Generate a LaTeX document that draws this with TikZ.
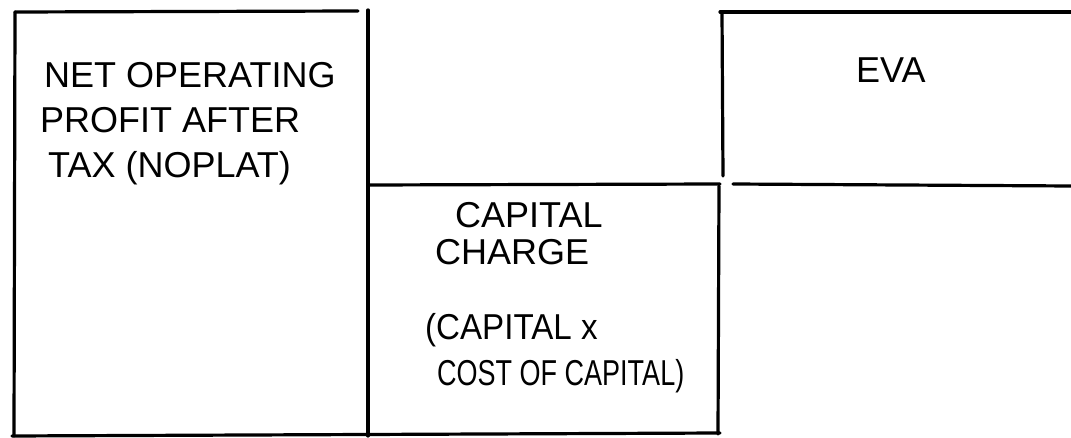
\documentclass[tikz,border=0pt]{standalone}
\usepackage{fontspec}
\usepackage{graphicx}
\setmainfont{Liberation Sans}
\begin{document}
\begin{tikzpicture}[x=1pt,y=-1pt,
  edge/.style={line width=3.2pt,line cap=round,black},
  lbl/.style={font=\fontsize{36}{44}\selectfont,anchor=base west,inner sep=0pt}]
\useasboundingbox[fill=white] (0,0) rectangle (1071,438);
% left box
\draw[edge] (15,12) -- (358,11);
\draw[edge] (15,12) -- (14,436);
\draw[edge] (368,10) -- (368,436);
\draw[edge] (12,436) -- (720,433);
% middle box
\draw[edge] (368,185) -- (720,184);
\draw[edge] (719,186) -- (718,434);
% right box
\draw[edge] (720,12) -- (1071,12);
\draw[edge] (722,12) -- (723,176);
\draw[edge] (733,184) -- (1071,186);
% texts
\node[lbl] (n1) at (44,88) {NET OPERATING};
\node[lbl] (n2) at (40,133) {PROFIT AFTER};
\node[lbl] (n3) at (48,178) {TAX (NOPLAT)};
\node[lbl] (c1) at (455,228) {CAPITAL};
\node[lbl] (c2) at (435,265) {CHARGE};
\node[lbl] (c3) at (425,340) {\scalebox{0.92}[1]{(CAPITAL x}};
\node[lbl] (c4) at (437,385) {\scalebox{0.75}[1]{COST OF CAPITAL)}};
\node[lbl] (eva) at (856,83) {EVA};
\end{tikzpicture}
\end{document}
